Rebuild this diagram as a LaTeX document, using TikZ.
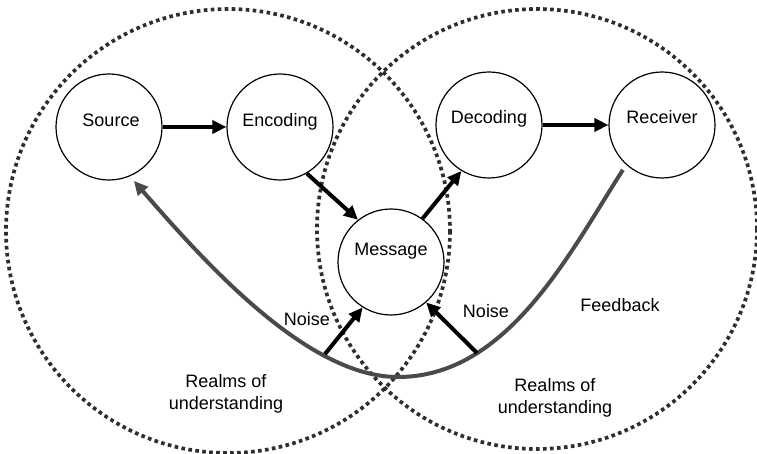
\documentclass[tikz,border=0pt]{standalone}
\usepackage{fontspec}
\setmainfont{Liberation Sans}
\usetikzlibrary{arrows.meta}
\definecolor{dotgray}{HTML}{2E2E2E}
\definecolor{fbgray}{HTML}{4A4A4A}
\begin{document}
\begin{tikzpicture}[x=1pt,y=-1pt,
  font=\fontsize{18}{22}\selectfont,
  realm/.style={draw=dotgray, line width=3.7pt, dash pattern=on 3.6pt off 3.4pt},
  bubble/.style={circle, draw=black, fill=white, line width=1.2pt,
                 minimum size=106pt, inner sep=0pt},
  word/.style={inner sep=0pt, anchor=base},
  flow/.style={line width=4pt, -{Triangle[length=14pt,width=13pt]}},
  feedback/.style={draw=fbgray, line width=4pt,
                   -{Triangle[length=14pt,width=13pt,fill=fbgray]}}]
  \useasboundingbox (0,0) rectangle (757,454);

  % the two overlapping realms of understanding
  \draw[realm] (228,231) circle[radius=222];
  \draw[realm] (537,229) circle[radius=220];

  % stages of the communication chain
  \node[bubble] (source)   at (109,127) {};
  \node[bubble] (encoding) at (280,127) {};
  \node[bubble] (decoding) at (489,125) {};
  \node[bubble] (receiver) at (662,125) {};
  \node[bubble] (message)  at (391,262) {};

  \node[word] (sourceT)   at (111,127) {Source};
  \node[word] (encodingT) at (280,127) {Encoding};
  \node[word] (decodingT) at (489,124) {Decoding};
  \node[word] (receiverT) at (662,124) {Receiver};
  \node[word] (messageT)  at (391,255) {Message};

  % main flow
  \draw[flow] (source) -- (encoding);
  \draw[flow] (decoding) -- (receiver);
  \draw[flow] (encoding.-60) -- (message.128);
  \draw[flow] (message.54) -- (decoding.-121);

  % feedback loop from receiver back to source
  \coordinate (fbLow) at (398,377);
  \draw[feedback, shorten <=6pt, shorten >=6pt]
    (receiver.-132) .. controls (570,252) and (508,377) .. (fbLow)
    .. controls (308,377) and (207,265) .. (source.-67);

  % noise entering the message
  \coordinate (noiseL) at (325,354);
  \coordinate (noiseR) at (477,353);
  \draw[flow] (noiseL) -- (message.-122);
  \draw[flow] (noiseR) -- (message.-49);

  % labels
  \node[word] (noiseLT) at (307,325) {Noise};
  \node[word] (noiseRT) at (486,317) {Noise};
  \node[word] (fbT)     at (620,311) {Feedback};
  \node[word] (realmLa) at (226,387) {Realms of};
  \node[word] (realmLb) at (226,409) {understanding};
  \node[word] (realmRa) at (555,391) {Realms of};
  \node[word] (realmRb) at (555,413) {understanding};
\end{tikzpicture}
\end{document}
